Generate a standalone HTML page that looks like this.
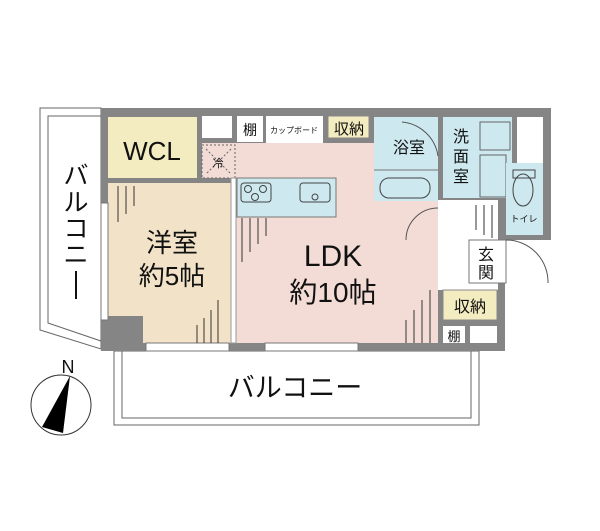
<!DOCTYPE html>
<html><head><meta charset="utf-8"><style>
html,body{margin:0;padding:0;background:#fff}
svg{display:block}
text{font-family:"Liberation Sans","Noto Sans CJK JP",sans-serif;fill:#111}
</style></head><body>
<svg width="600" height="531" viewBox="0 0 600 531" xmlns="http://www.w3.org/2000/svg">
<!-- left balcony -->
<polygon points="40,108 101,108 101,349 40,330" fill="#fff" stroke="#666" stroke-width="1"/>
<polygon points="48,116 101,116 101,341 48,323" fill="#fff" stroke="#666" stroke-width="1"/>
<!-- bottom balcony -->
<rect x="114" y="351" width="365" height="74" fill="#fff" stroke="#666"/>
<rect x="122" y="351" width="349" height="67" fill="#fff" stroke="#666"/>
<!-- walls -->
<polygon points="101,108 551,108 551,240 505,240 505,351 101,351" fill="#858585"/>
<!-- rooms -->
<rect x="108" y="117" width="89" height="61" fill="#f3ecc0"/>
<rect x="108" y="183" width="123" height="160" fill="#f2e3c8"/>
<rect x="108" y="316" width="35" height="29" fill="#858585"/>
<rect x="202" y="143" width="236" height="35" fill="#f4dcd6"/>
<rect x="236" y="143" width="202" height="200" fill="#f4dcd6"/>
<rect x="202" y="145" width="33" height="33" fill="#f4dcd6" stroke="#666" stroke-dasharray="2,2"/>
<line x1="206" y1="149" x2="231" y2="174" stroke="#666" stroke-dasharray="2,2"/>
<line x1="231" y1="149" x2="206" y2="174" stroke="#666" stroke-dasharray="2,2"/>
<text x="218" y="167" font-size="11" text-anchor="middle">冷</text>
<!-- top shelves -->
<rect x="202" y="116" width="30" height="22" fill="#fff"/>
<rect x="237" y="116" width="26" height="26" fill="#fff"/>
<text x="250" y="135" font-size="14" text-anchor="middle">棚</text>
<rect x="266" y="116" width="57" height="27" fill="#fff"/>
<text x="294" y="133" font-size="8" text-anchor="middle">カップボード</text>
<rect x="328" y="116" width="41" height="22" fill="#f3ecc0" stroke="#888"/>
<text x="349" y="134" font-size="15" text-anchor="middle">収納</text>
<!-- kitchen counter -->
<rect x="237" y="178" width="99" height="39" fill="#cde8ee" stroke="#777"/>
<rect x="241" y="183" width="30" height="19" rx="3" fill="none" stroke="#444"/>
<circle cx="248" cy="189" r="3.5" fill="none" stroke="#444"/><circle cx="263" cy="189" r="3.5" fill="none" stroke="#444"/><circle cx="255" cy="197" r="3.5" fill="none" stroke="#444"/>
<rect x="300" y="183" width="30" height="19" rx="3" fill="none" stroke="#444"/>
<circle cx="315" cy="197" r="3" fill="none" stroke="#444"/>
<!-- bath -->
<rect x="374" y="117" width="64" height="84" fill="#cde8ee"/>
<line x1="374" y1="170" x2="438" y2="170" stroke="#777"/>
<rect x="380" y="178" width="50" height="20" rx="9" fill="none" stroke="#444"/>
<!-- washroom -->
<rect x="443" y="117" width="69" height="81" fill="#cde8ee"/>
<rect x="480" y="122" width="30" height="28" fill="none" stroke="#666"/>
<rect x="480" y="155" width="26" height="42" fill="none" stroke="#666"/>
<rect x="517" y="117" width="26" height="50" fill="#fff"/>
<!-- toilet -->
<rect x="506" y="163" width="37" height="72" fill="#cde8ee"/>
<ellipse cx="523" cy="190" rx="10" ry="16" fill="none" stroke="#444"/>
<rect x="513" y="170" width="22" height="8" fill="none" stroke="#444"/>
<text x="524" y="222" font-size="9" text-anchor="middle">トイレ</text>
<!-- hallway -->
<rect x="438" y="200" width="60" height="90" fill="#fff"/>
<rect x="498" y="240" width="7" height="43" fill="#fff"/>
<rect x="469" y="240" width="37" height="43" fill="#fff" stroke="#777"/>
<path d="M506,240 A42,42 0 0 1 548,283" fill="none" stroke="#555"/>
<rect x="443" y="290" width="54" height="30" fill="#f3ecc0" stroke="#888"/>
<text x="470" y="312" font-size="16" text-anchor="middle">収納</text>
<rect x="443" y="326" width="22" height="17" fill="#fff"/>
<text x="454" y="341" font-size="13" text-anchor="middle">棚</text>
<rect x="470" y="326" width="27" height="17" fill="#fff"/>
<!-- doors -->
<path d="M438,208 A32,32 0 0 0 406,240" fill="none" stroke="#555"/>
<path d="M402,122 A40,40 0 0 1 438,156" fill="none" stroke="#555"/>
<!-- windows -->
<rect x="101" y="203" width="7" height="117" fill="#fff" stroke="#777"/>
<rect x="146" y="343" width="83" height="8" fill="#fff" stroke="#777"/>
<rect x="265" y="343" width="93" height="8" fill="#fff" stroke="#777"/>
<rect x="231" y="178" width="5" height="165" fill="#fff" stroke="#999"/>
<!-- flooring lines -->
<g stroke="#333" stroke-width="1">
<line x1="118" y1="186" x2="118" y2="222"/><line x1="126" y1="186" x2="126" y2="214"/><line x1="134" y1="186" x2="134" y2="206"/>
<line x1="218" y1="300" x2="218" y2="343"/><line x1="211" y1="310" x2="211" y2="343"/><line x1="204" y1="318" x2="204" y2="343"/><line x1="197" y1="325" x2="197" y2="343"/>
<line x1="242" y1="218" x2="242" y2="262"/><line x1="250" y1="218" x2="250" y2="252"/><line x1="258" y1="218" x2="258" y2="244"/><line x1="266" y1="218" x2="266" y2="236"/>
<line x1="430" y1="290" x2="430" y2="343"/><line x1="422" y1="300" x2="422" y2="343"/><line x1="414" y1="310" x2="414" y2="343"/><line x1="406" y1="320" x2="406" y2="343"/>
<line x1="476" y1="205" x2="476" y2="230"/><line x1="484" y1="205" x2="484" y2="235"/><line x1="492" y1="205" x2="492" y2="238"/>
</g>
<!-- labels -->
<text x="152" y="160" font-size="26" text-anchor="middle">WCL</text>
<text x="172" y="252" font-size="26" text-anchor="middle">洋室</text>
<text x="172" y="285" font-size="26" text-anchor="middle">約5帖</text>
<text x="333" y="266" font-size="30" text-anchor="middle">LDK</text>
<text x="333" y="302" font-size="28" text-anchor="middle">約10帖</text>
<text x="409" y="153" font-size="16" text-anchor="middle">浴室</text>
<text x="461" y="142" font-size="16" text-anchor="middle">洗</text>
<text x="461" y="162" font-size="16" text-anchor="middle">面</text>
<text x="461" y="182" font-size="16" text-anchor="middle">室</text>
<text x="486" y="260" font-size="16" text-anchor="middle">玄</text>
<text x="486" y="278" font-size="16" text-anchor="middle">関</text>
<text x="295" y="397" font-size="27" text-anchor="middle">バルコニー</text>
<g font-size="25" text-anchor="middle">
<text x="76" y="184">バ</text><text x="76" y="211">ル</text><text x="76" y="237">コ</text><text x="76" y="263">ニ</text>
</g>
<line x1="76" y1="271" x2="76" y2="299" stroke="#111" stroke-width="2"/>
<!-- compass -->
<circle cx="61" cy="405" r="30" fill="#fff" stroke="#333"/>
<polygon points="70,376 42,427 63,433" fill="#000"/>
<text x="68" y="373" font-size="18" text-anchor="middle">N</text>
</svg>
</body></html>
